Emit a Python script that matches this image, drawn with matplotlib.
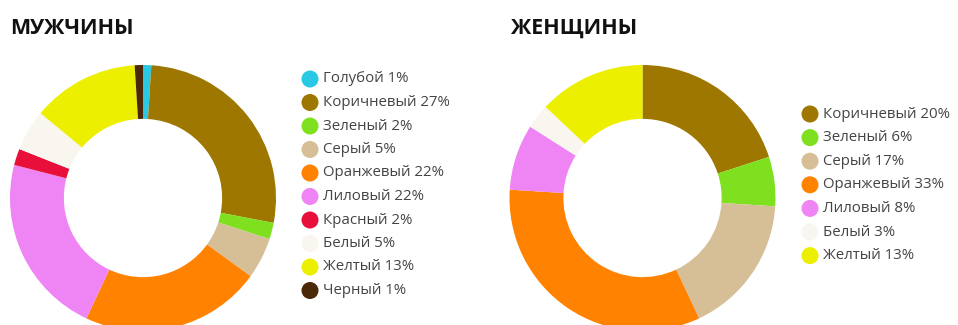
import matplotlib
matplotlib.use("Agg")
import matplotlib.pyplot as plt

W, H = 958, 325

men_labels = ["Голубой", "Коричневый", "Зеленый", "Серый", "Оранжевый",
              "Лиловый", "Красный", "Белый", "Желтый", "Черный"]
men_values = [1, 27, 2, 5, 22, 22, 2, 5, 13, 1]
men_colors = ["#29c9e3", "#9e7700", "#7ee01e", "#d6bf97", "#ff8200",
              "#ef84f5", "#e8103a", "#f8f6ee", "#ecf000", "#4b2808"]

women_labels = ["Коричневый", "Зеленый", "Серый", "Оранжевый",
                "Лиловый", "Белый", "Желтый"]
women_values = [20, 6, 17, 33, 8, 3, 13]
women_colors = ["#9e7700", "#7ee01e", "#d6bf97", "#ff8200",
                "#ef84f5", "#f8f6ee", "#ecf000"]

FONT = "Open Sans"
TEXT = "#444444"

fig = plt.figure(figsize=(W / 100, H / 100), dpi=100)
fig.patch.set_facecolor("white")

# overlay in pixel coords for titles and legends
ov = fig.add_axes([0, 0, 1, 1])
ov.set_xlim(0, W)
ov.set_ylim(H, 0)
ov.axis("off")


def donut(cx, cy, r, values, colors):
    ax = fig.add_axes([(cx - r) / W, (H - cy - r) / H, 2 * r / W, 2 * r / H])
    ax.pie(values, colors=colors, startangle=90, counterclock=False,
           wedgeprops=dict(width=0.405, linewidth=0))
    ax.set_xlim(-1, 1)
    ax.set_ylim(-1, 1)
    ax.axis("off")
    return ax


def legend(x, y0, step, labels, values, colors):
    for i, (lab, v, c) in enumerate(zip(labels, values, colors)):
        y = y0 + i * step
        ov.scatter([x], [y], s=150, color=c, edgecolors="none", zorder=3)
        ov.text(x + 13, y, f"{lab} {v}%", fontsize=10.8, family=FONT,
                color=TEXT, va="center", ha="left")


donut(143, 198, 133, men_values, men_colors)
donut(642.5, 198, 133, women_values, women_colors)

ov.text(10, 28, "МУЖЧИНЫ", fontsize=15.5, fontweight="bold", family=FONT,
        color="#111111", va="center", ha="left")
ov.text(511, 28, "ЖЕНЩИНЫ", fontsize=15.5, fontweight="bold", family=FONT,
        color="#111111", va="center", ha="left")

legend(310, 79, 23.5, men_labels, men_values, men_colors)
legend(810, 114, 23.6, women_labels, women_values, women_colors)

ov.set_zorder(5)
fig.savefig("out.png", dpi=100, facecolor="white")
